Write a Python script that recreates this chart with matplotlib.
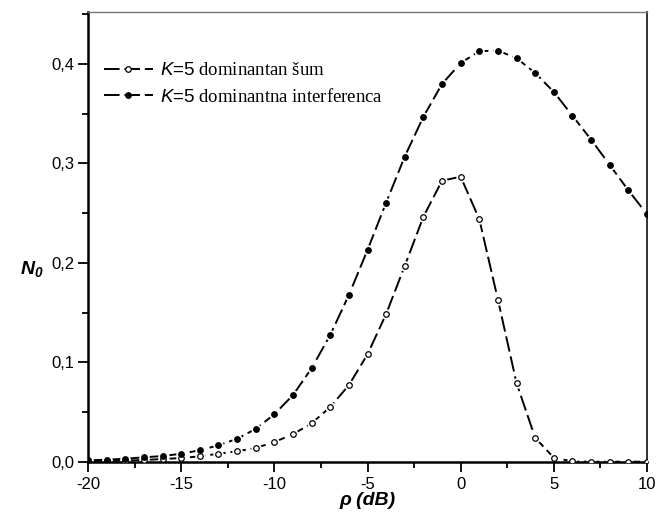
import numpy as np
import matplotlib
matplotlib.use("Agg")
import matplotlib.pyplot as plt
from matplotlib.ticker import MultipleLocator, FuncFormatter

plt.rcParams['mathtext.fontset'] = 'custom'
plt.rcParams['mathtext.rm'] = 'Liberation Sans'
plt.rcParams['mathtext.it'] = 'Liberation Sans:italic'
plt.rcParams['mathtext.bf'] = 'Liberation Sans:bold'
plt.rcParams['mathtext.bfit'] = 'Liberation Sans:italic:bold'
plt.rcParams['font.family'] = ['Liberation Sans', 'DejaVu Sans']

rho_db = [-20, -19, -18, -17, -16, -15, -14, -13, -12, -11, -10,
          -9, -8, -7, -6, -5, -4, -3, -2, -1, 0,
          1, 2, 3, 4, 5, 6, 7, 8, 9, 10]

n0_sum = [0.0005, 0.0008, 0.0012, 0.0017, 0.0027, 0.0037, 0.0054, 0.0080, 0.0105, 0.0138, 0.0198,
          0.0276, 0.0386, 0.0550, 0.077, 0.108, 0.1486, 0.197, 0.2465, 0.2827, 0.2867,
          0.244, 0.163, 0.079, 0.024, 0.004, 0.0003, 0.0, 0.0, 0.0, 0.0]

n0_interf = [0.0014, 0.0020, 0.0030, 0.0044, 0.0057, 0.0080, 0.0115, 0.0165, 0.0230, 0.0330, 0.0477,
             0.067, 0.094, 0.1275, 0.1677, 0.213, 0.2606, 0.307, 0.347, 0.380, 0.401,
             0.413, 0.4135, 0.406, 0.391, 0.372, 0.348, 0.324, 0.2985, 0.273, 0.249]

labels = [r"$\mathit{K}\text{=5}$ dominantan šum",
          r"$\mathit{K}\text{=5}$ dominantna interferenca"]

xticks = [-20, -15, -10, -5, 0, 5, 10]
yticks = [0.0, 0.1, 0.2, 0.3, 0.4]

fig = plt.figure(figsize=(6.56, 5.16), dpi=100)
ax = fig.add_axes([88/656, 1 - 461.7/516, (647-88)/656, (461.7-11.7)/516])

lw = 1.4
dash = (8, 2.5)
ms_open = 4.0
ms_fill = 4.0
# white halos under markers to give the gap look
for ys in (n0_sum, n0_interf):
    ax.plot(rho_db, ys, linestyle='none', marker='o', markersize=6.5,
            markerfacecolor='white', markeredgecolor='white', zorder=2)

l1, = ax.plot(rho_db, n0_sum, color='black', lw=lw, dashes=dash,
              marker='o', markersize=ms_open, markerfacecolor='white',
              markeredgecolor='black', markeredgewidth=0.9, zorder=1)
l2, = ax.plot(rho_db, n0_interf, color='black', lw=lw, dashes=dash,
              marker='o', markersize=ms_fill, markerfacecolor='black',
              markeredgecolor='black', markeredgewidth=0.9, zorder=1)
# markers on top of halo
ax.plot(rho_db, n0_sum, linestyle='none', marker='o', markersize=ms_open,
        markerfacecolor='white', markeredgecolor='black', markeredgewidth=0.9, zorder=3)
ax.plot(rho_db, n0_interf, linestyle='none', marker='o', markersize=ms_fill,
        markerfacecolor='black', markeredgecolor='black', markeredgewidth=0.9, zorder=3)

ax.set_xlim(-20, 10)
ax.set_ylim(0, 0.4527)
ax.set_xticks(xticks)
ax.set_yticks(yticks)
ax.xaxis.set_minor_locator(MultipleLocator(2.5))
ax.yaxis.set_minor_locator(MultipleLocator(0.05))

ax.xaxis.set_major_formatter(FuncFormatter(lambda v, p: f"{v:g}"))
ax.yaxis.set_major_formatter(FuncFormatter(lambda v, p: f"{v:.1f}".replace('.', ',')))

ax.tick_params(which='major', direction='out', length=7, width=1.3, labelsize=12)
ax.tick_params(which='minor', direction='out', length=4, width=1.3)
ax.tick_params(axis='x', which='major', pad=4)
ax.tick_params(axis='y', which='major', pad=3)
ax.tick_params(axis='x', which='both', top=False)
ax.tick_params(axis='y', which='both', right=False)

ax.spines['left'].set_linewidth(1.8)
ax.spines['bottom'].set_linewidth(1.8)
ax.spines['right'].set_linewidth(1.3)
ax.spines['right'].set_color('#222222')
ax.spines['top'].set_linewidth(1.0)
ax.spines['top'].set_color('#777777')

ax.set_xlabel(r"ρ (dB)", fontsize=14, fontweight='bold', style='italic', labelpad=0)
ax.set_ylabel(r"$\mathbfit{N_0}$", fontsize=14, rotation=0)
ax.yaxis.set_label_coords(-0.1, 0.405)

leg = ax.legend([l1, l2], labels, loc='upper left', bbox_to_anchor=(0.015, 0.905),
                frameon=False, handlelength=2.6, handletextpad=0.4,
                labelspacing=0.45, borderaxespad=0.0,
                prop={'family': 'Liberation Serif', 'size': 13.5})

fig.savefig("out.png", dpi=100)
